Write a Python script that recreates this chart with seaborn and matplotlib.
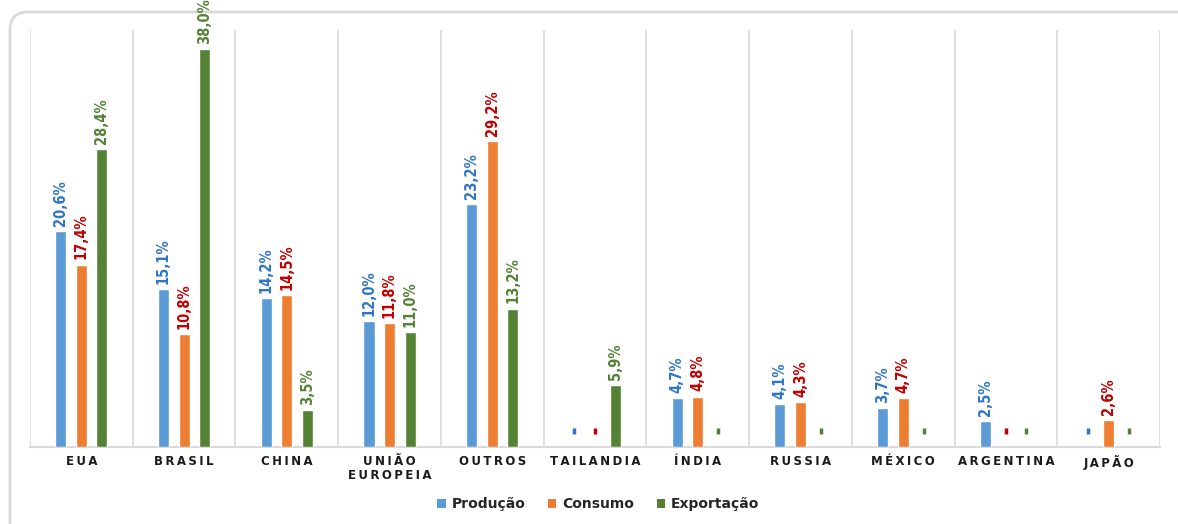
import numpy as np
import pandas as pd
import matplotlib
matplotlib.use("Agg")
import matplotlib.pyplot as plt
from matplotlib.patches import FancyBboxPatch, Patch
from matplotlib.transforms import IdentityTransform
import seaborn as sns

categories = ["EUA", "BRASIL", "CHINA", "UNIÃO\nEUROPEIA", "OUTROS", "TAILANDIA",
              "ÍNDIA", "RUSSIA", "MÉXICO", "ARGENTINA", "JAPÃO"]
nan = np.nan
producao = [20.6, 15.1, 14.2, 12.0, 23.2, nan, 4.7, 4.1, 3.7, 2.5, nan]
consumo = [17.4, 10.8, 14.5, 11.8, 29.2, nan, 4.8, 4.3, 4.7, nan, 2.6]
exportacao = [28.4, 38.0, 3.5, 11.0, 13.2, 5.9, nan, nan, nan, nan, nan]
series_names = ["Produção", "Consumo", "Exportação"]

bar_colors = ["#5B9BD5", "#ED7D31", "#548235"]
label_colors = ["#2E75C6", "#C00000", "#548235"]

rows = []
for name, vals in zip(series_names, [producao, consumo, exportacao]):
    for c, v in zip(categories, vals):
        rows.append({"cat": c, "serie": name, "valor": v})
df = pd.DataFrame(rows)

sns.set_theme(style="white")
plt.rcParams["font.family"] = ["DejaVu Sans"]

fig = plt.figure(figsize=(11.78, 5.24), dpi=100)
fig.patch.set_facecolor("white")
# card background (pixel coordinates)
card = FancyBboxPatch((10, -40), 1220, 552,
                      boxstyle="round,pad=0,rounding_size=18",
                      transform=IdentityTransform(), facecolor="white",
                      edgecolor="#d9d9d9", linewidth=2.0, zorder=-10)
fig.patches.append(card)

ax = fig.add_axes([30 / 1178, 77 / 524, 1130 / 1178, 417 / 524])
ax.set_facecolor("none")
ax.set_zorder(5)

sns.barplot(data=df, x="cat", y="valor", hue="serie", order=categories,
            hue_order=series_names, palette=bar_colors, width=0.6, gap=0.46,
            dodge=True, ax=ax, legend=False, saturation=1, zorder=3)

ax.set_xlim(-0.5, len(categories) - 0.5)
ax.set_ylim(0, 39.8)

offsets = [-0.2, 0.0, 0.2]
for j, vals in enumerate([producao, consumo, exportacao]):
    for i, v in enumerate(vals):
        x = i + offsets[j]
        if np.isnan(v):
            ax.plot([x], [1.5], marker="|", markersize=4.5, mew=2.5,
                    color=label_colors[j], zorder=4)
        else:
            ax.text(x, v + 0.5, f"{v:.1f}%".replace(".", ","), rotation=90,
                    ha="center", va="bottom", color=label_colors[j],
                    fontsize=10.5, fontweight="bold", fontstretch="condensed",
                    clip_on=False, family=["DejaVu Sans"], zorder=5)

def spaced(s):
    return "\n".join("\u2009".join(line) for line in s.split("\n"))

ax.set_xticks(range(len(categories)))
ax.set_xticklabels([spaced(c) for c in categories], fontsize=8.5,
                   fontweight="bold", color="#1a1a1a", linespacing=1.1)
ax.tick_params(axis="x", length=0, pad=6)
ax.set_yticks([])
ax.set_xlabel("")
ax.set_ylabel("")

ax.set_xticks(np.arange(-0.5, len(categories)), minor=True)
ax.tick_params(axis="x", which="minor", length=0)
ax.grid(which="minor", axis="x", color="#d9d9d9", linewidth=1.2, zorder=0)
ax.grid(which="major", visible=False)
ax.set_axisbelow(True)
for s in ["top", "right", "left"]:
    ax.spines[s].set_visible(False)
ax.spines["bottom"].set_color("#d9d9d9")
ax.spines["bottom"].set_linewidth(1.5)

handles = [Patch(facecolor=c, edgecolor="none", label=n)
           for c, n in zip(bar_colors, series_names)]
fig.legend(handles=handles, loc="center", bbox_to_anchor=(0.508, 0.038),
           ncol=3, frameon=False, handlelength=0.6, handleheight=0.6,
           handletextpad=0.45, columnspacing=1.6,
           prop={"weight": "bold", "size": 10})

fig.savefig("out.png", dpi=100, facecolor="white")
